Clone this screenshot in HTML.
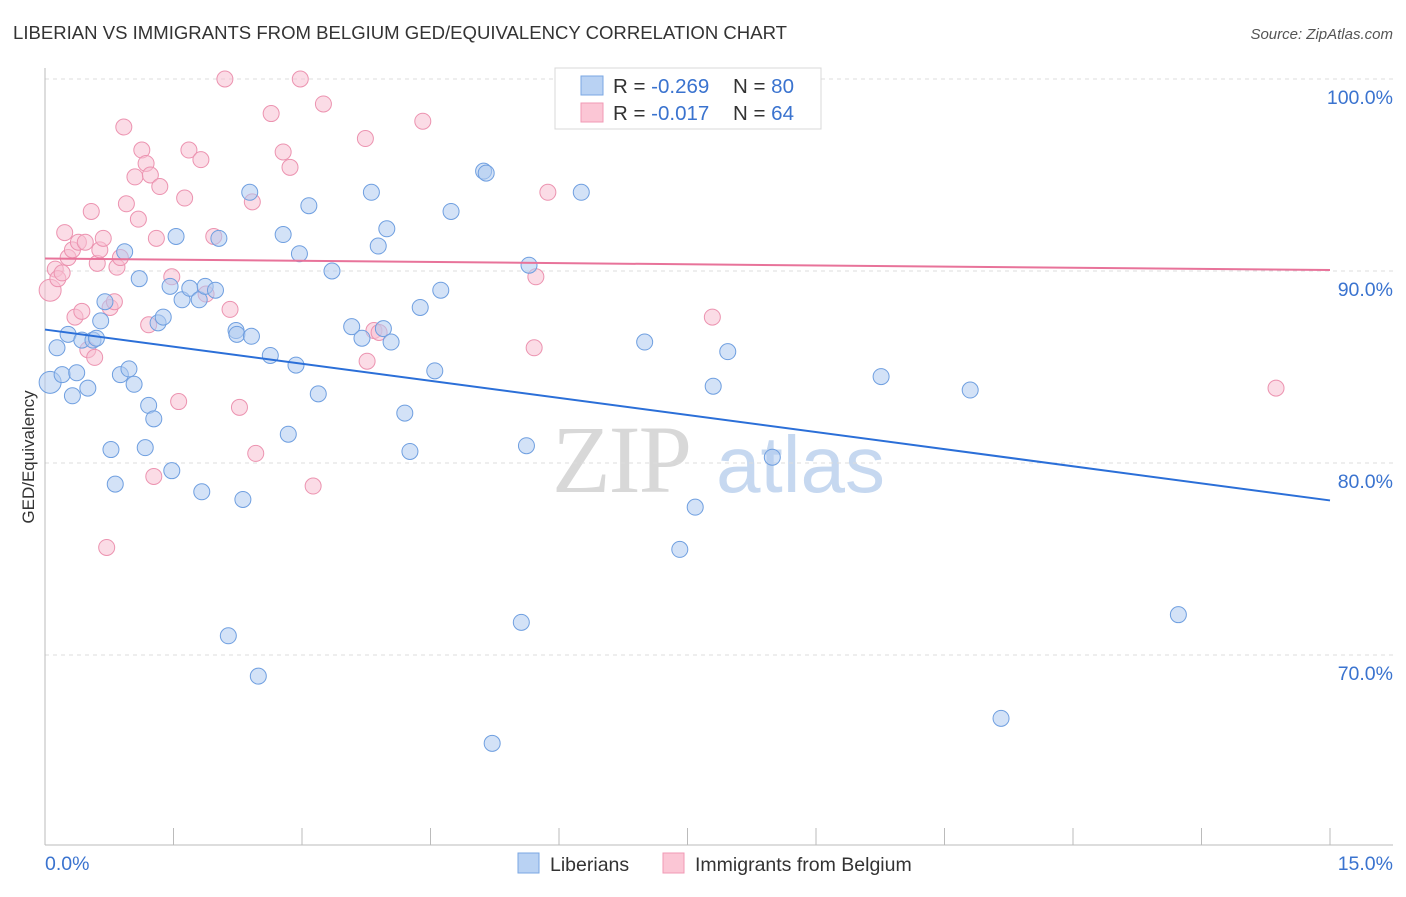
<!DOCTYPE html>
<html><head><meta charset="utf-8"><style>
body{margin:0;background:#fff;font-family:"Liberation Sans",sans-serif;}
</style></head><body>
<svg id="chart" width="1406" height="892" xmlns="http://www.w3.org/2000/svg" font-family="Liberation Sans, sans-serif">
<text x="13" y="39" font-size="18.5" fill="#333" textLength="774" lengthAdjust="spacingAndGlyphs">LIBERIAN VS IMMIGRANTS FROM BELGIUM GED/EQUIVALENCY CORRELATION CHART</text>
<text x="1393" y="39" font-size="15" fill="#555" font-style="italic" text-anchor="end">Source: ZipAtlas.com</text>
<g>
<text x="552" y="492" font-size="96" font-family="Liberation Serif, serif" fill="#d8d8d8" letter-spacing="-2">ZIP</text>
<text x="716" y="492" font-size="80" fill="#c6d8f0">atlas</text>
</g>
<g id="grid"></g>
<g id="axes"></g>
<g id="marks"></g>
<text transform="translate(34,457) rotate(-90)" font-size="17" fill="#333" text-anchor="middle">GED/Equivalency</text>
<g>
<rect x="555" y="68" width="266" height="61" fill="#fff" stroke="#d8d8d8"/>
<rect x="581" y="76" width="22" height="19" fill="#b9d2f3" stroke="#7aa7e3"/>
<rect x="581" y="103" width="22" height="19" fill="#fbc6d5" stroke="#f09ab5"/>
<text x="613" y="93" font-size="20.5" fill="#333">R = <tspan fill="#3a73cf">-0.269</tspan></text>
<text x="733" y="93" font-size="20.5" fill="#333">N = <tspan fill="#3a73cf">80</tspan></text>
<text x="613" y="120" font-size="20.5" fill="#333">R = <tspan fill="#3a73cf"> -0.017</tspan></text>
<text x="733" y="120" font-size="20.5" fill="#333">N = <tspan fill="#3a73cf">64</tspan></text>
</g>
<g>
<rect x="518" y="853" width="21" height="20" fill="#b9d2f3" stroke="#7aa7e3"/>
<text x="550" y="871" font-size="19.5" fill="#333">Liberians</text>
<rect x="663" y="853" width="21" height="20" fill="#fbc6d5" stroke="#f09ab5"/>
<text x="695" y="871" font-size="19.5" fill="#333">Immigrants from Belgium</text>
</g>
</svg>
<script>
const blueX=[0.06,0.14,0.2,0.27,0.32,0.37,0.43,0.5,0.56,0.6,0.65,0.7,0.77,0.82,0.88,0.93,0.98,1.04,1.1,1.17,1.21,1.27,1.32,1.38,1.46,1.48,1.53,1.6,1.69,1.8,1.83,1.87,1.99,2.03,2.14,2.23,2.24,2.31,2.39,2.41,2.49,2.63,2.78,2.84,2.93,2.97,3.08,3.19,3.35,3.58,3.7,3.81,3.89,3.95,3.99,4.04,4.2,4.26,4.38,4.55,4.62,4.74,5.12,5.15,5.22,5.56,5.62,5.65,6.26,7.0,7.41,7.59,7.8,7.97,8.49,9.76,10.8,11.16,13.23];
const blueY=[84.2,86.0,84.6,86.7,83.5,84.7,86.4,83.9,86.4,86.5,87.4,88.4,80.7,78.9,84.6,91.0,84.9,84.1,89.6,80.8,83.0,82.3,87.3,87.6,89.2,79.6,91.8,88.5,89.1,88.5,78.5,89.2,89.0,91.7,71.0,86.9,86.7,78.1,94.1,86.6,68.9,85.6,91.9,81.5,85.1,90.9,93.4,83.6,90.0,87.1,86.5,94.1,91.3,87.0,92.2,86.3,82.6,80.6,88.1,84.8,89.0,93.1,95.2,95.1,65.4,71.7,80.9,90.3,94.1,86.3,75.5,77.7,84.0,85.8,80.3,84.5,83.8,66.7,72.1];
const pinkX=[0.06,0.12,0.15,0.2,0.23,0.27,0.32,0.35,0.39,0.43,0.47,0.5,0.54,0.58,0.61,0.64,0.68,0.72,0.76,0.81,0.84,0.88,0.92,0.95,1.05,1.09,1.13,1.18,1.21,1.23,1.27,1.3,1.34,1.48,1.56,1.63,1.68,1.82,1.88,1.97,2.1,2.16,2.27,2.42,2.46,2.64,2.78,2.86,2.98,3.13,3.25,3.74,3.76,3.84,3.9,4.41,5.71,5.73,5.87,6.07,7.79,14.37];
const pinkY=[89.0,90.1,89.6,89.9,92.0,90.7,91.1,87.6,91.5,87.9,91.5,85.9,93.1,85.5,90.4,91.1,91.7,75.6,88.1,88.4,90.2,90.7,97.5,93.5,94.9,92.7,96.3,95.6,87.2,95.0,79.3,91.7,94.4,89.7,83.2,93.8,96.3,95.8,88.8,91.8,100,88.0,82.9,93.6,80.5,98.2,96.2,95.4,100,78.8,98.7,96.9,85.3,86.9,86.8,97.8,86.0,89.7,94.1,100,87.6,83.9];
const blueTrend=[86.95,78.05];
const pinkTrend=[90.65,90.05];
const xTicks=[0,1.5,3,4.5,6,7.5,9,10.5,12,13.5,15];
const yTicks=[70,80,90,100];
const yTickLabels=["70.0%","80.0%","90.0%","100.0%"];
const xTickLabels=["0.0%","15.0%"];
const X0=45,X1=1330,Y100=79,PXPER=19.2;
const sx=v=>X0+(v/15)*(X1-X0);
const sy=v=>Y100+(100-v)*PXPER;
const NS="http://www.w3.org/2000/svg";
function mk(tag,parent,attrs){const e=document.createElementNS(NS,tag);for(const k in attrs)e.setAttribute(k,attrs[k]);parent.appendChild(e);return e;}
const grid=document.getElementById('grid'),axes=document.getElementById('axes'),marks=document.getElementById('marks');
yTicks.forEach((t,i)=>{
 const l=mk('line',grid,{x1:45,x2:1393,y1:sy(t),y2:sy(t),stroke:'#dcdcdc','stroke-dasharray':'4,4'});
 
 
 const tx=mk('text',grid,{x:1393,y:sy(t)+25,'font-size':19.5,fill:'#3a73cf','text-anchor':'end'});
 tx.textContent=yTickLabels[i];
 
 
});
const ax=mk('line',axes,{x1:45,x2:1393,y1:845,y2:845,stroke:'#bbb'});


const ay=mk('line',axes,{x1:45,x2:45,y1:68,y2:845,stroke:'#bbb'});


xTicks.forEach(t=>{
 const l=mk('line',axes,{x1:sx(t),x2:sx(t),y1:828,y2:845,stroke:'#bbb'});
 
 
});
const xl0=mk('text',axes,{x:45,y:870,'font-size':19.5,fill:'#3a73cf'});xl0.textContent=xTickLabels[0];


const xl1=mk('text',axes,{x:1393,y:870,'font-size':19.5,fill:'#3a73cf','text-anchor':'end'});xl1.textContent=xTickLabels[1];


function dots(xs,ys,fill,stroke,name){
 xs.forEach((x,i)=>{
  const c=mk('circle',marks,{cx:sx(x),cy:sy(ys[i]),r:i===0?11:8,fill:fill,'fill-opacity':0.55,stroke:stroke,'stroke-width':1});
  
  
 });
}
dots(pinkX,pinkY,'#f7bfd1','#ec93b0','belgium-point');
dots(blueX,blueY,'#aecbf0','#6f9fe0','liberian-point');
const bl=mk('line',marks,{x1:sx(0),y1:sy(blueTrend[0]),x2:sx(15),y2:sy(blueTrend[1]),stroke:'#2b6fd8','stroke-width':2});


const pl=mk('line',marks,{x1:sx(0),y1:sy(pinkTrend[0]),x2:sx(15),y2:sy(pinkTrend[1]),stroke:'#e8739a','stroke-width':2});


</script>
</body></html>
